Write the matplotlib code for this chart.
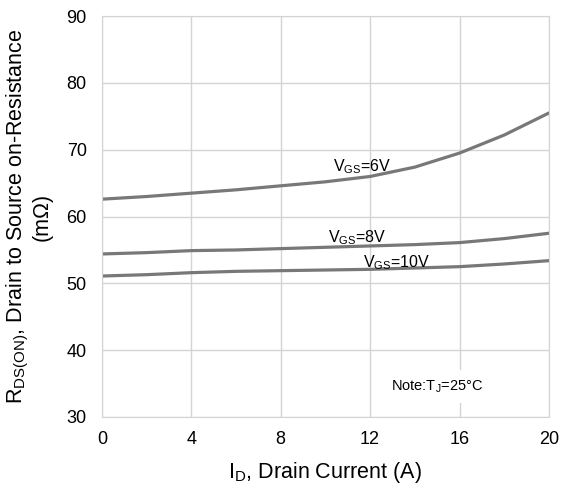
import matplotlib.pyplot as plt

plt.rcParams['font.family'] = ['Liberation Sans', 'DejaVu Sans']
plt.rcParams['mathtext.fontset'] = 'custom'
plt.rcParams['mathtext.rm'] = 'Liberation Sans'
plt.rcParams['mathtext.it'] = 'Liberation Sans'

# drain current (A)
id_a = [0, 2, 4, 6, 8, 10, 12, 14, 16, 18, 20]

# Rds(on) in mOhm
vgs6 = [62.6, 63.0, 63.5, 64.0, 64.6, 65.2, 66.0, 67.4, 69.5, 72.2, 75.5]
vgs8 = [54.4, 54.6, 54.9, 55.0, 55.2, 55.4, 55.6, 55.8, 56.1, 56.7, 57.5]
vgs10 = [51.1, 51.3, 51.6, 51.8, 51.9, 52.0, 52.1, 52.3, 52.5, 52.9, 53.4]

xticks = [0, 4, 8, 12, 16, 20]
yticks = [30, 40, 50, 60, 70, 80, 90]

fig = plt.figure(figsize=(5.63, 4.88), dpi=100)
ax = fig.add_axes([0.181, 0.1455, 0.794, 0.8215])

lc = '#787878'
for ys in (vgs6, vgs8, vgs10):
    ax.plot(id_a, ys, color=lc, lw=2.3, solid_capstyle='round')

ax.set_xlim(0, 20)
ax.set_ylim(30, 90)
ax.set_xticks(xticks)
ax.set_yticks(yticks)
ax.grid(True, color='#d4d4d4', lw=1)
ax.set_axisbelow(True)
for s in ax.spines.values():
    s.set_color('#d4d4d4')
ax.tick_params(length=0, labelsize=13)
ax.tick_params(axis='y', pad=11)
ax.tick_params(axis='x', pad=10)

ax.text(10.34, 66.8, r'V$\mathregular{_{GS}}$=6V', fontsize=11.5, va='baseline')
ax.text(10.1, 56.2, r'V$\mathregular{_{GS}}$=8V', fontsize=11.5, va='baseline')
ax.text(11.7, 52.4, r'V$\mathregular{_{GS}}$=10V', fontsize=11.5, va='baseline')
ax.text(12.93, 34.5, r'Note:T$\mathregular{_J}$=25°C', fontsize=10.5, va='center',
        bbox=dict(facecolor='white', edgecolor='none', pad=6))

ax.set_xlabel(r'I$\mathregular{_D}$, Drain Current (A)', fontsize=15.5, labelpad=9)
ax.set_ylabel('R$\\mathregular{_{DS(ON)}}$, Drain to Source on-Resistance\n(m\u03a9)',
              fontsize=15.5, labelpad=10, linespacing=1.05)

fig.savefig('out.png', dpi=100)
